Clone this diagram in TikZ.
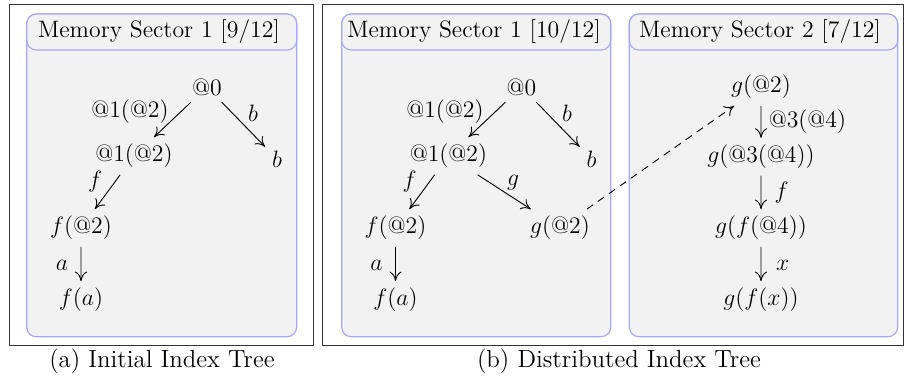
\documentclass[tikz,border=0pt]{standalone}
\usetikzlibrary{arrows.meta}

\definecolor{sectorfill}{RGB}{242,242,242}
\definecolor{sectorline}{RGB}{166,166,255}

\tikzset{
  frame/.style={draw=black!80, line width=0.5pt},
  sector/.style={draw=sectorline, fill=sectorfill, line width=0.6pt, rounded corners=5pt},
  heading/.style={font=\fontsize{12.4}{15}\selectfont},
  term/.style={inner sep=0.3333em, scale=1.03, transform shape},
  lab/.style={inner sep=0pt, scale=1.03, transform shape},
  link/.style={-{Computer Modern Rightarrow[length=5pt, width=6.2pt]}, line width=0.48pt},
  jump/.style={link, dash pattern=on 4pt off 3pt},
  caption/.style={inner sep=0pt, font=\fontsize{12.95}{15}\selectfont},
}

\begin{document}
\begin{tikzpicture}[x=0.5217pt, y=-0.5217pt, font=\fontsize{12}{14.4}\selectfont]
\useasboundingbox (0,0) rectangle (904,375);

% outer frames of the two panels
\draw[frame] (9.3,4) rectangle (313,345.7);
\draw[frame] (322.7,4) rectangle (903,345.7);

% memory sectors with their title bars
\draw[sector] (26.7,14) rectangle (296.7,336.7);
\draw[sector] (26.7,14) rectangle (296.7,50);
\draw[sector] (341.7,14) rectangle (610.7,336.7);
\draw[sector] (341.7,14) rectangle (610.7,50);
\draw[sector] (629.3,14) rectangle (897.7,336.7);
\draw[sector] (629.3,14) rectangle (897.7,50);

\node[heading] (ta) at (159,32) {Memory Sector 1 [9/12]};
\node[heading] (tb1) at (474,32) {Memory Sector 1 [10/12]};
\node[heading] (tb2) at (760,32) {Memory Sector 2 [7/12]};

% (a) initial index tree
\node[term] (A0)  at (207,87)  {$@0$};
\node[term] (A1)  at (134,156) {$@1(@2)$};
\node[term] (Ab)  at (277,159) {$b$};
\node[term] (Af)  at (81,228)  {$f(@2)$};
\node[term] (Afa) at (81,300)  {$f(a)$};
\draw[link] (A0) -- (A1);
\draw[link] (A0) -- (Ab);
\draw[link] (A1) -- (Af);
\draw[link] (Af) -- (Afa);
\node[lab] (lA1) at (130,112) {$@1(@2)$};
\node[lab] (lAb) at (253,113) {$b$};
\node[lab] (lAf) at (95,182)  {$f$};
\node[lab] (lAa) at (62,265)  {$a$};

% (b) distributed index tree, sector 1
\node[term] (B0)  at (521.5,87)  {$@0$};
\node[term] (B1)  at (448.5,156) {$@1(@2)$};
\node[term] (Bb)  at (591.5,159) {$b$};
\node[term] (Bf)  at (395.5,228) {$f(@2)$};
\node[term] (Bfa) at (395.5,300) {$f(a)$};
\node[term] (Bg)  at (560,228)   {$g(@2)$};
\draw[link] (B0) -- (B1);
\draw[link] (B0) -- (Bb);
\draw[link] (B1) -- (Bf);
\draw[link] (B1) -- (Bg);
\draw[link] (Bf) -- (Bfa);
\node[lab] (lB1) at (445,112) {$@1(@2)$};
\node[lab] (lBb) at (567,113) {$b$};
\node[lab] (lBf) at (409.5,182) {$f$};
\node[lab] (lBg) at (513,183) {$g$};
\node[lab] (lBa) at (376.5,265) {$a$};

% (b) distributed index tree, sector 2
\node[term] (C0) at (761,87)    {$g(@2)$};
\node[term] (C1) at (761,156.7) {$g(@3(@4))$};
\node[term] (C2) at (761,228)   {$g(f(@4))$};
\node[term] (C3) at (761,300)   {$g(f(x))$};
\draw[link] (C0) -- (C1);
\draw[link] (C1) -- (C2);
\draw[link] (C2) -- (C3);
\node[lab] (lC1) at (807.5,121.7) {$@3(@4)$};
\node[lab] (lC2) at (781.7,193)   {$f$};
\node[lab] (lC3) at (782.7,265)   {$x$};

% continuation of the tree into the second sector
\draw[jump] (Bg) -- (C0);

% panel captions
\node[caption] (capa) at (162,361) {(a) Initial Index Tree};
\node[caption] (capb) at (619,361) {(b) Distributed Index Tree};
\end{tikzpicture}
\end{document}
